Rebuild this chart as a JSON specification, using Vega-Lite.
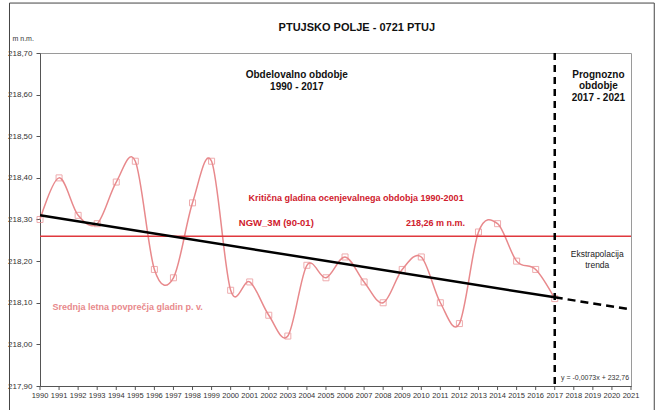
{
  "$schema": "https://vega.github.io/schema/vega-lite/v6.json",
  "width": 591,
  "height": 333,
  "autosize": {"type": "none"},
  "padding": {"left": 40, "top": 53, "right": 31, "bottom": 24},
  "background": "white",
  "config": {
    "font": "Liberation Sans",
    "view": {"stroke": "#9a9a9a", "strokeWidth": 1},
    "axis": {"grid": false, "tickColor": "#555555", "domainColor": "#555555", "labelColor": "#333333", "tickSize": 4},
    "axisX": {"labels": false, "ticks": false, "title": null},
    "axisY": {"labelFontSize": 8, "labelPadding": 4}
  },
  "datasets": {
    "levels": [
      {"year": 1990, "level": 218.30},
      {"year": 1991, "level": 218.40},
      {"year": 1992, "level": 218.31},
      {"year": 1993, "level": 218.29},
      {"year": 1994, "level": 218.39},
      {"year": 1995, "level": 218.44},
      {"year": 1996, "level": 218.18},
      {"year": 1997, "level": 218.16},
      {"year": 1998, "level": 218.34},
      {"year": 1999, "level": 218.44},
      {"year": 2000, "level": 218.13},
      {"year": 2001, "level": 218.15},
      {"year": 2002, "level": 218.07},
      {"year": 2003, "level": 218.02},
      {"year": 2004, "level": 218.19},
      {"year": 2005, "level": 218.16},
      {"year": 2006, "level": 218.21},
      {"year": 2007, "level": 218.15},
      {"year": 2008, "level": 218.10},
      {"year": 2009, "level": 218.18},
      {"year": 2010, "level": 218.21},
      {"year": 2011, "level": 218.10},
      {"year": 2012, "level": 218.05},
      {"year": 2013, "level": 218.27},
      {"year": 2014, "level": 218.29},
      {"year": 2015, "level": 218.20},
      {"year": 2016, "level": 218.18},
      {"year": 2017, "level": 218.11}
    ],
    "years": [
      {"year": 1990}, {"year": 1991}, {"year": 1992}, {"year": 1993}, {"year": 1994}, {"year": 1995}, {"year": 1996}, {"year": 1997},
      {"year": 1998}, {"year": 1999}, {"year": 2000}, {"year": 2001}, {"year": 2002}, {"year": 2003}, {"year": 2004}, {"year": 2005},
      {"year": 2006}, {"year": 2007}, {"year": 2008}, {"year": 2009}, {"year": 2010}, {"year": 2011}, {"year": 2012}, {"year": 2013},
      {"year": 2014}, {"year": 2015}, {"year": 2016}, {"year": 2017}, {"year": 2018}, {"year": 2019}, {"year": 2020}, {"year": 2021}
    ],
    "trendObs": [
      {"year": 1990, "trend": 218.310},
      {"year": 2017, "trend": 218.113}
    ],
    "trendFc": [
      {"year": 2017, "trend": 218.113},
      {"year": 2021, "trend": 218.084}
    ],
    "one": [{}]
  },
  "layer": [
    {
      "data": {"name": "levels"},
      "mark": {"type": "line", "interpolate": "cardinal", "color": "#e8898c", "strokeWidth": 1.5},
      "encoding": {
        "x": {
          "field": "year", "type": "quantitative",
          "scale": {"domain": [1990, 2021], "nice": false, "zero": false},
          "axis": {"title": null, "labels": false, "ticks": false}
        },
        "y": {
          "field": "level", "type": "quantitative",
          "scale": {"domain": [217.9, 218.7], "nice": false, "zero": false},
          "axis": {
            "title": "m n.m.",
            "titleAngle": 0,
            "titleAlign": "left",
            "titleBaseline": "middle",
            "titleX": -28,
            "titleY": -15,
            "titleFontSize": 7,
            "titleFontWeight": "normal",
            "titleColor": "#333333",
            "values": [217.9, 218.0, 218.1, 218.2, 218.3, 218.4, 218.5, 218.6, 218.7],
            "labelExpr": "replace(format(datum.value, '.2f'), '.', ',')"
          }
        }
      }
    },
    {
      "data": {"name": "levels"},
      "mark": {"type": "point", "shape": "square", "filled": false, "size": 36, "stroke": "#e8898c", "strokeWidth": 1},
      "encoding": {
        "x": {"field": "year", "type": "quantitative"},
        "y": {"field": "level", "type": "quantitative"}
      }
    },
    {
      "data": {"name": "years"},
      "mark": {"type": "rule", "color": "#555555", "strokeWidth": 1},
      "encoding": {
        "x": {"field": "year", "type": "quantitative"},
        "y": {"datum": 217.9},
        "y2": {"datum": 217.8904}
      }
    },
    {
      "data": {"name": "years"},
      "mark": {"type": "text", "align": "center", "baseline": "middle", "fontSize": 7.5, "color": "#333333"},
      "encoding": {
        "x": {"field": "year", "type": "quantitative"},
        "y": {"datum": 217.877},
        "text": {"field": "year", "type": "quantitative", "format": "d"}
      }
    },
    {
      "data": {"name": "one"},
      "mark": {"type": "rule", "color": "#e0393e", "strokeWidth": 1.5},
      "encoding": {"y": {"datum": 218.26}}
    },
    {
      "data": {"name": "trendObs"},
      "mark": {"type": "line", "color": "#000000", "strokeWidth": 2.5},
      "encoding": {
        "x": {"field": "year", "type": "quantitative"},
        "y": {"field": "trend", "type": "quantitative"}
      }
    },
    {
      "data": {"name": "trendFc"},
      "mark": {"type": "line", "color": "#000000", "strokeWidth": 2.5, "strokeDash": [8, 5]},
      "encoding": {
        "x": {"field": "year", "type": "quantitative"},
        "y": {"field": "trend", "type": "quantitative"}
      }
    },
    {
      "data": {"name": "one"},
      "mark": {"type": "rule", "color": "#000000", "strokeWidth": 2.5, "strokeDash": [7, 5]},
      "encoding": {"x": {"datum": 2017}}
    },
    {
      "data": {"name": "one"},
      "mark": {"type": "text", "text": "PTUJSKO POLJE - 0721 PTUJ", "align": "center", "baseline": "middle", "fontSize": 11, "fontWeight": "bold", "color": "#111111"},
      "encoding": {"x": {"datum": 2006.62}, "y": {"datum": 218.76}}
    },
    {
      "data": {"name": "one"},
      "mark": {"type": "text", "text": ["Obdelovalno obdobje", "1990 - 2017"], "align": "center", "baseline": "top", "fontSize": 10, "fontWeight": "bold", "color": "#111111", "lineHeight": 12},
      "encoding": {"x": {"datum": 2003.47}, "y": {"datum": 218.66}}
    },
    {
      "data": {"name": "one"},
      "mark": {"type": "text", "text": ["Prognozno", "obdobje", "2017 - 2021"], "align": "center", "baseline": "top", "fontSize": 10, "fontWeight": "bold", "color": "#111111", "lineHeight": 11.5},
      "encoding": {"x": {"datum": 2019.29}, "y": {"datum": 218.66}}
    },
    {
      "data": {"name": "one"},
      "mark": {"type": "text", "text": "Kritična gladina ocenjevalnega obdobja 1990-2001", "align": "center", "baseline": "middle", "fontSize": 9, "fontWeight": "bold", "color": "#d0202d"},
      "encoding": {"x": {"datum": 2006.58}, "y": {"datum": 218.352}}
    },
    {
      "data": {"name": "one"},
      "mark": {"type": "text", "text": "NGW_3M (90-01)", "align": "left", "baseline": "middle", "fontSize": 9.5, "fontWeight": "bold", "color": "#d0202d"},
      "encoding": {"x": {"datum": 2000.43}, "y": {"datum": 218.292}}
    },
    {
      "data": {"name": "one"},
      "mark": {"type": "text", "text": "218,26  m  n.m.", "align": "left", "baseline": "middle", "fontSize": 9, "fontWeight": "bold", "color": "#d0202d"},
      "encoding": {"x": {"datum": 2009.2}, "y": {"datum": 218.292}}
    },
    {
      "data": {"name": "one"},
      "mark": {"type": "text", "text": "Srednja letna povprečja gladin  p. v.", "align": "left", "baseline": "middle", "fontSize": 9, "fontWeight": "bold", "color": "#e8898c"},
      "encoding": {"x": {"datum": 1990.65}, "y": {"datum": 218.09}}
    },
    {
      "data": {"name": "one"},
      "mark": {"type": "text", "text": ["Ekstrapolacija", "trenda"], "align": "center", "baseline": "top", "fontSize": 8.5, "color": "#222222", "lineHeight": 11},
      "encoding": {"x": {"datum": 2019.23}, "y": {"datum": 218.227}}
    },
    {
      "data": {"name": "one"},
      "mark": {"type": "text", "text": "y = -0,0073x + 232,76", "align": "right", "baseline": "middle", "fontSize": 7, "color": "#333333"},
      "encoding": {"x": {"datum": 2020.9}, "y": {"datum": 217.92}}
    },
    {
      "data": {"name": "one"},
      "mark": {"type": "rule", "color": "#444444", "strokeWidth": 1},
      "encoding": {"x": {"datum": 1988.4}, "y": {"datum": 218.82}, "y2": {"datum": 217.7}}
    },
    {
      "data": {"name": "one"},
      "mark": {"type": "rule", "color": "#444444", "strokeWidth": 1},
      "encoding": {"x": {"datum": 2022.22}, "y": {"datum": 218.82}, "y2": {"datum": 217.7}}
    },
    {
      "data": {"name": "one"},
      "mark": {"type": "rule", "color": "#444444", "strokeWidth": 1},
      "encoding": {"x": {"datum": 1988.4}, "x2": {"datum": 2022.22}, "y": {"datum": 218.82}}
    }
  ]
}
